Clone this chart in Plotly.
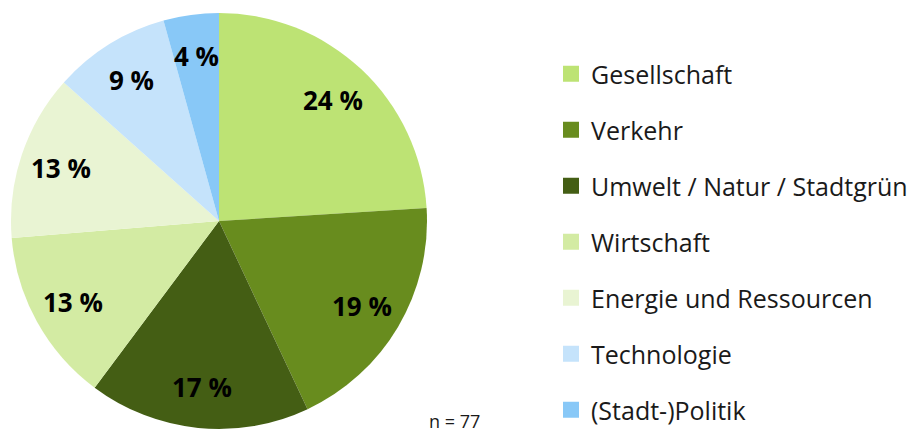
import math
import plotly.graph_objects as go

categories = ["Gesellschaft", "Verkehr", "Umwelt / Natur / Stadtgrün", "Wirtschaft",
              "Energie und Ressourcen", "Technologie", "(Stadt-)Politik"]
shares = [24.0, 19.0, 17.2, 13.5, 12.9, 9.1, 4.3]
share_labels = ["24 %", "19 %", "17 %", "13 %", "13 %", "9 %", "4 %"]
colors = ["#BDE374", "#688C1E", "#445E14", "#D3EBA3", "#E9F4D3", "#C5E3FB", "#88C8F7"]
n_label = "n = 77"

W, H = 916, 433
# pie geometry (figure pixels)
cx_px, cy_px, r_px = 211, 213, 208

fig = go.Figure()
fig.add_trace(go.Pie(
    labels=categories, values=shares, text=share_labels,
    textinfo="none",
    marker=dict(colors=colors, line=dict(width=0)),
    sort=False, direction="clockwise", rotation=0,
    showlegend=False, hoverinfo="label+text",
    domain=dict(x=[(cx_px - r_px) / W, (cx_px + r_px) / W],
                y=[1 - (cy_px + r_px) / H, 1 - (cy_px - r_px) / H]),
))

for cat, col in zip(categories, colors):
    fig.add_trace(go.Scatter(
        x=[None], y=[None], mode="markers", name=cat, legendgroup=cat,
        marker=dict(symbol="square", size=17, color=col),
    ))

# percentage labels placed along each slice's mid-angle
annotations = []
total = sum(shares)
cum = 0.0
for val, lab in zip(shares, share_labels):
    mid = (cum + val / 2) / total * 2 * math.pi
    cum += val
    rr = 0.8 * r_px
    annotations.append(dict(
        text=lab, xref="paper", yref="paper", showarrow=False,
        x=(cx_px + rr * math.sin(mid)) / W, y=1 - (cy_px - rr * math.cos(mid)) / H,
        xanchor="center", yanchor="middle",
        font=dict(family="Open Sans", size=26, color="black", weight="bold"),
    ))
annotations.append(dict(text=n_label, x=446 / W, y=1 - 413 / H, xref="paper", yref="paper",
                        xanchor="center", yanchor="middle", showarrow=False,
                        font=dict(family="Open Sans", size=18, color="#1a1a1a")))

fig.update_layout(
    width=W, height=H,
    margin=dict(l=0, r=0, t=0, b=0),
    paper_bgcolor="white", plot_bgcolor="white",
    xaxis=dict(visible=False), yaxis=dict(visible=False),
    legend=dict(x=543 / W, y=1 - 43 / H, xanchor="left", yanchor="top",
                font=dict(family="Open Sans", size=25, color="#1a1a1a"),
                tracegroupgap=20.5, itemsizing="trace", traceorder="grouped"),
    annotations=annotations,
)
fig.write_html("out.html")
